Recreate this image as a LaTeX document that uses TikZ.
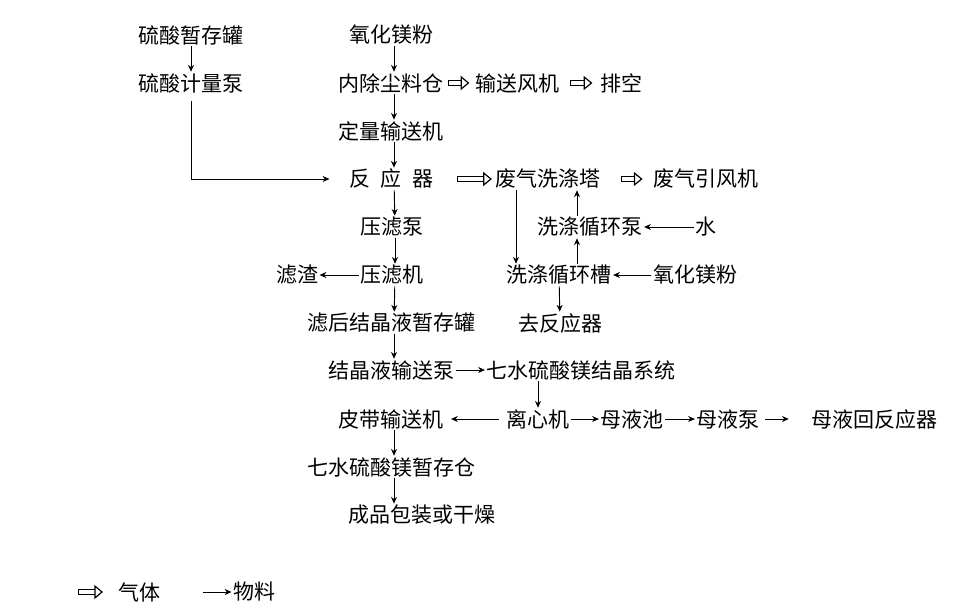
\documentclass[tikz,border=0pt]{standalone}
\usepackage{fontspec}
\newfontfamily\cjk{Noto Sans CJK SC}
\usetikzlibrary{arrows.meta}
\tikzset{
	every node/.style={font=\cjk\fontsize{15.75}{18}\selectfont, inner sep=1pt},
	flow/.style={line width=0.7pt, -{Stealth[length=5pt,width=4.5pt,inset=1.5pt]}},
	trunk/.style={flow, transform canvas={xshift=2.25pt}},
	gas/.style={double, double distance=3pt, line width=0.9pt, {Bar[width=4.8pt,line width=0.9pt]}-{Triangle[open,length=6.5pt,width=10.5pt,line width=0.9pt]}},
}

\begin{document}
\begin{tikzpicture}[x=0.75pt,y=-0.75pt]
				\useasboundingbox (0,0) rectangle (962,615);
				%Nodes
				\node (lsTank) 	at (191,35) {硫酸暂存罐};
				\node (lsPump) 	at (191,83) {硫酸计量泵};
				\node (mgPow) 	at (391,35) {氧化镁粉};
				\node (dust) 	at (391,83) {内除尘料仓};
				\node (fan) 	at (517,83) {输送风机};
				\node (vent) 	at (621,83) {排空};
				\node (doser) 	at (391,131) {定量输送机};
				\node (reactor) at (391,179) {反\hspace{0.5em}应\hspace{0.5em}器};
				\node (tower) 	at (548,179) {废气洗涤塔};
				\node (exFan) 	at (706,179) {废气引风机};
				\node (fPump) 	at (392,227) {压滤泵};
				\node (wPump) 	at (590,227) {洗涤循环泵};
				\node (water) 	at (706,227) {水};
				\node (slag) 	at (297,275) {滤渣};
				\node (press) 	at (392,275) {压滤机};
				\node (wTank) 	at (559,275) {洗涤循环槽};
				\node (mgPow2) 	at (695,275) {氧化镁粉};
				\node (liqTank) at (391,323) {滤后结晶液暂存罐};
				\node (back) 	at (560,323) {去反应器};
				\node (cPump) 	at (391,370) {结晶液输送泵};
				\node (cryst) 	at (581,370) {七水硫酸镁结晶系统};
				\node (belt) 	at (391,419) {皮带输送机};
				\node (centr) 	at (538,419) {离心机};
				\node (mPool) 	at (632,419) {母液池};
				\node (mPump) 	at (728,419) {母液泵};
				\node (mRet) 	at (874,419) {母液回反应器};
				\node (store) 	at (391,467) {七水硫酸镁暂存仓};
				\node (prod) 	at (422,515) {成品包装或干燥};
				\coordinate (t1) at ([xshift=-24pt]tower.south);
				\coordinate (w1) at ([xshift=13.5pt]wTank.north);
				\coordinate (w2) at (w1 |- wPump.north);
				
				%Legend
				\coordinate (g0) at (78,592);
				\coordinate (g1) at (103,592);
				\node (gasL) 	at (139,592) {气体};
				\coordinate (m0) at (203,592);
				\node (matL) 	at (254,592) {物料};
				
				%Lines
				\draw[flow] (lsTank) -- (lsPump);
				\draw[flow,shorten <=5pt,shorten >=13.5pt] (lsPump.south) |- (reactor.west);
				\draw[trunk] (mgPow) -- (dust);
				\draw[trunk] (dust) -- (doser);
				\draw[trunk] (doser) -- (reactor);
				\draw[trunk] (reactor) -- (fPump);
				\draw[trunk] (fPump) -- (press);
				\draw[flow] (press) -- (slag);
				\draw[trunk] (press) -- (liqTank);
				\draw[trunk] (liqTank) -- (cPump);
				\draw[flow] (cPump) -- (cryst);
				\draw[flow] (cryst.south -| centr) -- (centr.north);
				\draw[flow,shorten <=4.5pt,shorten >=4.5pt] (centr) -- (belt);
				\draw[flow] (centr) -- (mPool);
				\draw[flow] (mPool) -- (mPump);
				\draw[flow,shorten <=3pt,shorten >=15.5pt] (mPump) -- (mRet);
				\draw[trunk] (belt) -- (store);
				\draw[trunk] (store.south) -- (store.south |- prod.north);
				
				\draw[flow] (t1) -- (t1 |- wTank.north);
				\draw[flow] (w1) -- (w1 |- wPump.south);
				\draw[flow] (w2) -- (w2 |- tower.south);
				\draw[flow] (water) -- (wPump);
				\draw[flow] (mgPow2) -- (wTank);
				\draw[flow] (wTank) -- (back);
				
				\draw[gas,shorten <=2pt,shorten >=3pt] (dust) -- (fan);
				\draw[gas,shorten <=7pt,shorten >=4.5pt] (fan) -- (vent);
				\draw[gas,shorten <=17pt,shorten >=1.5pt] (reactor) -- (tower);
				\draw[gas,shorten <=14pt,shorten >=7pt] (tower) -- (exFan);
				
				\draw[gas] (g0) -- (g1);
				\draw[flow] (m0) -- (matL);

		\end{tikzpicture}
\end{document}
